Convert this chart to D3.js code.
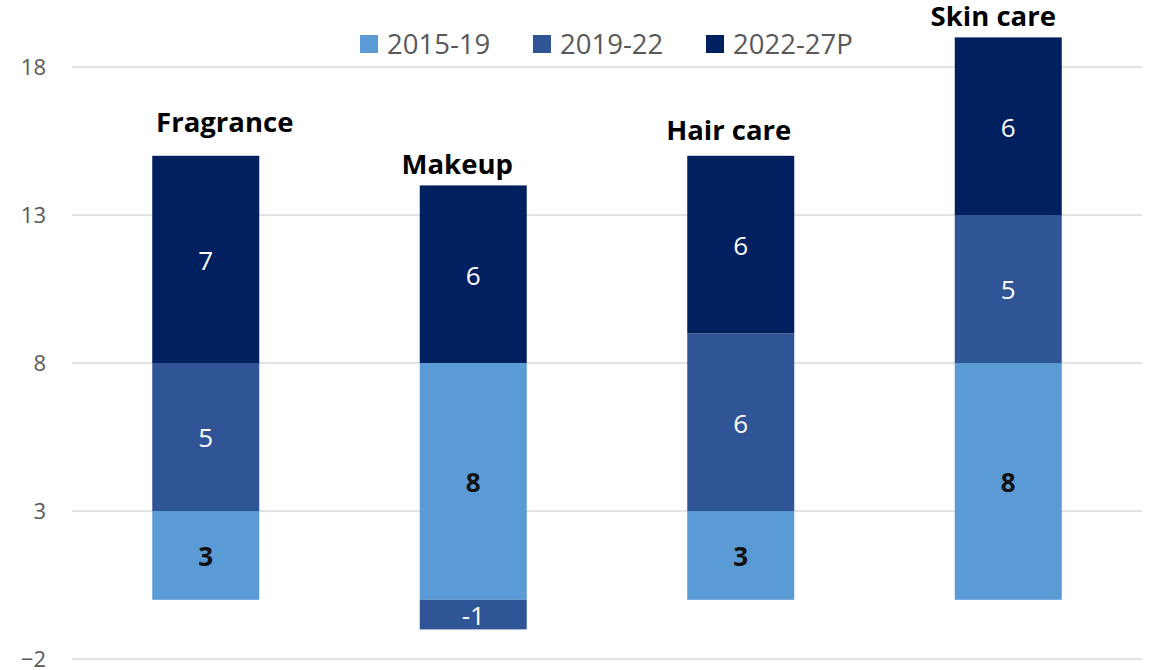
<!DOCTYPE html>
<html>
<head>
<meta charset="utf-8">
<script src="https://cdn.jsdelivr.net/npm/d3@7"></script>
<style>
  html, body { margin: 0; padding: 0; background: #fff; }
  svg { display: block; font-family: "Open Sans", "Noto Sans", sans-serif; }
</style>
</head>
<body>
<svg id="chart" width="1158" height="670"></svg>
<script>
// Growth contribution by category and period
const categories = ["Fragrance", "Makeup", "Hair care", "Skin care"];
const seriesNames = ["2015-19", "2019-22", "2022-27P"];
const s2015_19 = [3, 8, 3, 8];
const s2019_22 = [5, -1, 6, 5];
const s2022_27P = [7, 6, 6, 6];
const yTicks = [-2, 3, 8, 13, 18];

const seriesValues = [s2015_19, s2019_22, s2022_27P];
const colors = ["#5B9BD5", "#2F5597", "#002060"];
const labelColors = ["#111", "#fff", "#fff"];
const labelWeights = ["bold", "normal", "normal"];

// category title placement relative to the top of each stack
const titleNudge = [{dx: 19, dy: -24}, {dx: -16, dy: -11}, {dx: -12, dy: -16}, {dx: -15, dy: -11}];

const svg = d3.select("#chart");

const x = d3.scaleBand()
  .domain(categories)
  .range([72, 1142])
  .paddingInner(0.6)
  .paddingOuter(0.3);

const y = d3.scaleLinear()
  .domain([-2, 18])
  .range([659, 67]);

// gridlines
svg.append("g")
  .selectAll("line")
  .data(yTicks)
  .join("line")
  .attr("x1", 72)
  .attr("x2", 1142)
  .attr("y1", d => y(d))
  .attr("y2", d => y(d))
  .attr("stroke", "#d9d9d9")
  .attr("stroke-width", 1.5);

// y axis labels
const yAxis = d3.axisLeft(y).tickValues(yTicks).tickSize(0).tickPadding(0);
const gy = svg.append("g")
  .attr("transform", "translate(46,0)")
  .call(yAxis);
gy.select(".domain").remove();
gy.selectAll("text")
  .attr("fill", "#595959")
  .attr("font-size", 22)
  .attr("font-family", "'Open Sans', sans-serif");

// stack positive and negative values separately
const rows = categories.map((c, i) => {
  const r = {category: c};
  seriesNames.forEach((s, k) => { r[s] = seriesValues[k][i]; });
  return r;
});
const stacked = d3.stack()
  .keys(seriesNames)
  .offset(d3.stackOffsetDiverging)(rows);

const layers = svg.append("g")
  .selectAll("g")
  .data(stacked)
  .join("g")
  .attr("fill", (d, k) => colors[k]);

layers.selectAll("rect")
  .data(d => d)
  .join("rect")
  .attr("x", d => x(d.data.category))
  .attr("width", x.bandwidth())
  .attr("y", d => y(Math.max(d[0], d[1])))
  .attr("height", d => Math.abs(y(d[0]) - y(d[1])));

// value labels centred in each segment
stacked.forEach((layer, k) => {
  svg.append("g")
    .selectAll("text")
    .data(layer)
    .join("text")
    .attr("x", d => x(d.data.category) + x.bandwidth() / 2)
    .attr("y", d => y((d[0] + d[1]) / 2))
    .attr("dy", "0.4em")
    .attr("text-anchor", "middle")
    .attr("font-size", 26)
    .attr("font-weight", labelWeights[k])
    .attr("fill", labelColors[k])
    .text(d => d.data[layer.key]);
});

// category titles above each stack
const tops = categories.map((c, i) =>
  d3.sum(seriesValues, s => Math.max(0, s[i])));
svg.append("g")
  .selectAll("text")
  .data(categories)
  .join("text")
  .attr("x", (c, i) => x(c) + x.bandwidth() / 2 + titleNudge[i].dx)
  .attr("y", (c, i) => y(tops[i]) + titleNudge[i].dy)
  .attr("text-anchor", "middle")
  .attr("font-size", 27.5)
  .attr("font-weight", "bold")
  .attr("fill", "#000")
  .text(c => c);

// legend
const legendX = [360, 533, 706];
const legend = svg.append("g")
  .selectAll("g")
  .data(seriesNames)
  .join("g")
  .attr("transform", (d, k) => `translate(${legendX[k]},35)`);
legend.append("rect")
  .attr("width", 18)
  .attr("height", 18)
  .attr("fill", (d, k) => colors[k]);
legend.append("text")
  .attr("x", 27)
  .attr("y", 9)
  .attr("dy", "0.36em")
  .attr("font-size", 27.5)
  .attr("fill", "#595959")
  .text(d => d);
</script>
</body>
</html>
